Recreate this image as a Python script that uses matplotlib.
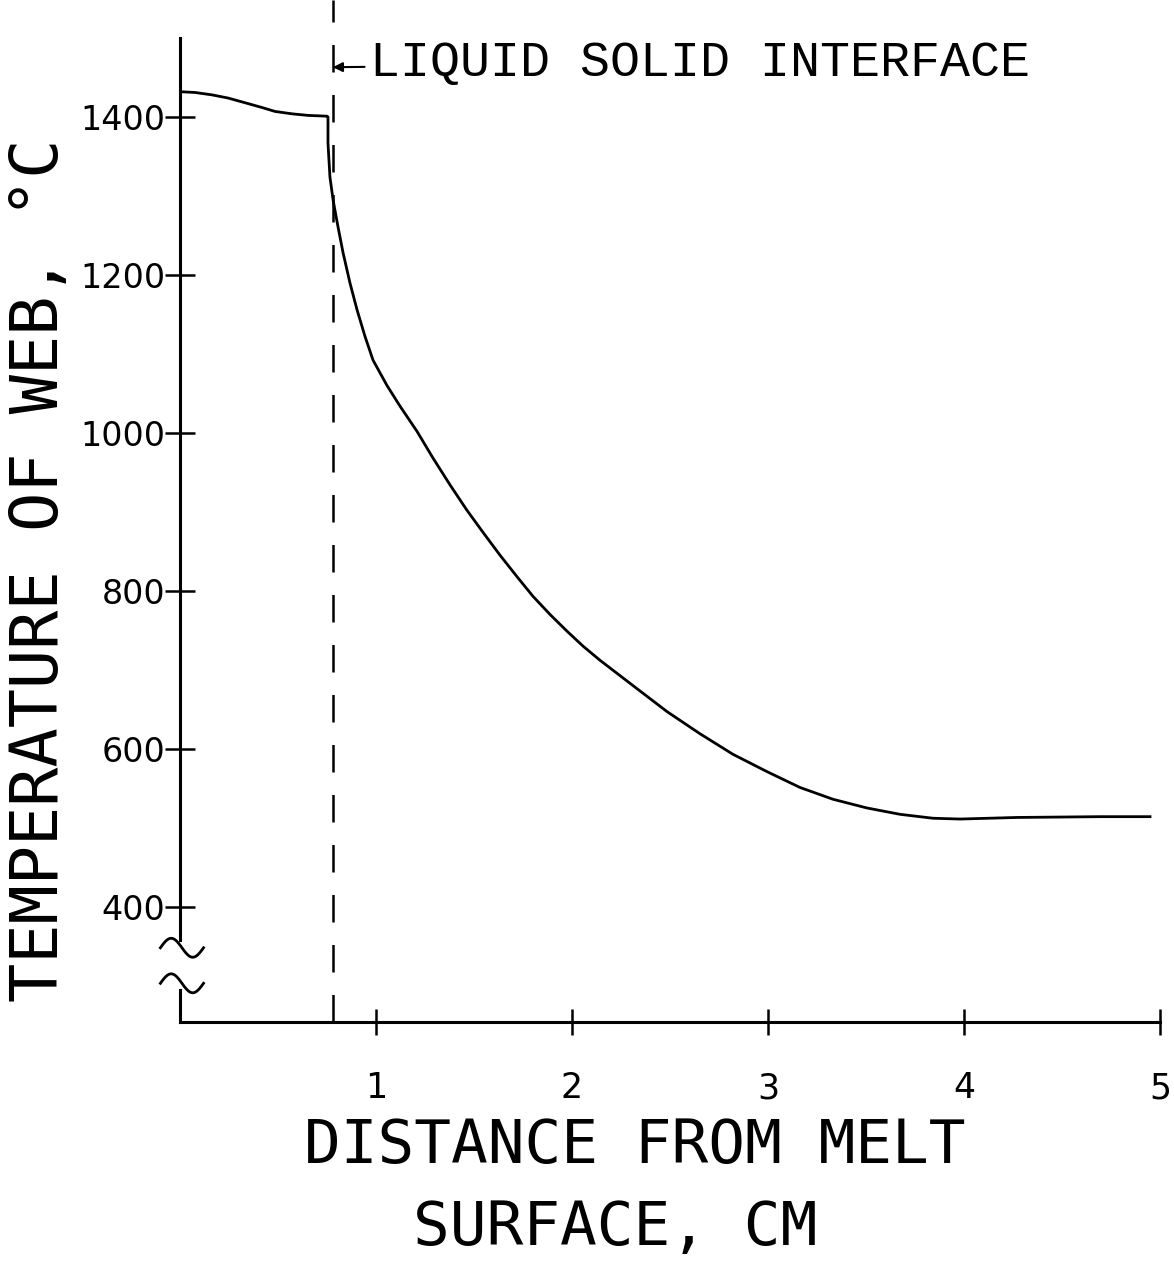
import numpy as np
import matplotlib
matplotlib.use("Agg")
import matplotlib.pyplot as plt

# data
distance_cm = [0.0, 0.077, 0.163, 0.245, 0.332, 0.418, 0.485, 0.571, 0.653, 0.750,
               0.755, 0.755, 0.765, 0.781, 0.806, 0.832, 0.867, 0.903, 0.944, 0.985,
               1.056, 1.122, 1.209, 1.291, 1.378, 1.464, 1.546, 1.633, 1.719, 1.801,
               1.888, 1.974, 2.056, 2.143, 2.311, 2.485, 2.653, 2.821, 2.995, 3.163,
               3.332, 3.505, 3.673, 3.842, 3.980, 4.270, 4.694, 4.949]
temp_c = [1432, 1431, 1428, 1424, 1418, 1412, 1407, 1404, 1402, 1401,
          1400, 1367, 1324, 1295, 1261, 1228, 1190, 1156, 1122, 1092,
          1060, 1034, 1002, 968, 934, 902, 874, 845, 818, 793,
          770, 749, 730, 712, 680, 647, 619, 593, 571, 551,
          536, 525, 517, 512, 511, 513, 514, 514]
interface_x = 0.78
x_ticks = [1, 2, 3, 4, 5]
y_ticks = [400, 600, 800, 1000, 1200, 1400]
y_break = (295, 358)

fig = plt.figure(figsize=(11.74, 12.63), dpi=100)
ax = fig.add_axes([180 / 1174, 241 / 1263, 981 / 1174, 984 / 1263])
ax.set_xlim(0, 5.005)
ax.set_ylim(254, 1500)

ax.plot(distance_cm, temp_c, color="black", lw=2.0)

# interface marker, runs above the axes
ax.plot([interface_x, interface_x], [254, 1548], color="black", lw=1.8,
        linestyle=(0, (11, 9)), clip_on=False)

for s in ["top", "right"]:
    ax.spines[s].set_visible(False)
ax.spines["left"].set_bounds(y_break[1], 1500)
ax.spines["bottom"].set_bounds(0, 5)
ax.spines["left"].set_linewidth(2.2)
ax.spines["bottom"].set_linewidth(2.2)
ax.plot([0, 0], [254, y_break[0]], color="black", lw=2.2, clip_on=False)

# break marks on the y axis
t = np.linspace(-np.pi, np.pi, 60)
for yb in [y_break[1] - 10, y_break[0] + 8]:
    ax.plot(0.01 + 0.11 * t / np.pi, yb - 12 * np.sin(t), color="black",
            lw=2.0, clip_on=False)

ax.set_xticks(x_ticks)
ax.set_xticklabels([str(v) for v in x_ticks])
ax.set_yticks(y_ticks)
ax.set_yticklabels([str(v) for v in y_ticks])
ax.tick_params(axis="y", direction="inout", length=21, width=1.8, pad=0, labelsize=24)
ax.tick_params(axis="x", direction="inout", length=19, width=1.8, pad=26, labelsize=25)

ax.annotate("LIQUID SOLID INTERFACE", xy=(interface_x, 1463), xytext=(0.97, 1468),
            fontsize=36, family="Liberation Mono", va="center", ha="left",
            annotation_clip=False,
            arrowprops=dict(arrowstyle="-|>", color="black", lw=1.5,
                            shrinkA=2, shrinkB=0, mutation_scale=14))

lab = dict(family="DejaVu Sans Mono", ha="center", va="center")
fig.text(40 / 1174, 1 - 570 / 1263, "TEMPERATURE OF WEB, °C", rotation=90,
         fontsize=47, **lab)
fig.text(635 / 1174, 1 - 1146 / 1263, "DISTANCE FROM MELT", fontsize=44, **lab)
fig.text(615 / 1174, 1 - 1228 / 1263, "SURFACE, CM", fontsize=44, **lab)

fig.savefig("out.png", dpi=100)
